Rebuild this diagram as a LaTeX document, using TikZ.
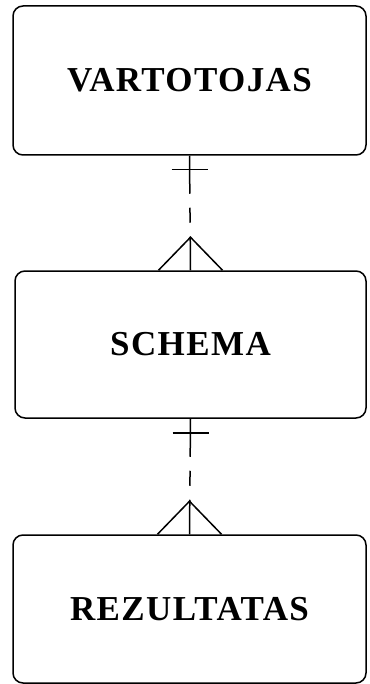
\documentclass[tikz,border=0pt]{standalone}
\usepackage{fontspec}
\setmainfont{Liberation Serif}
\newfontfamily\entityfont[LetterSpace=4]{Liberation Serif}
\usepackage{tikz}
\usetikzlibrary{arrows.meta}

\tikzset{
    entity/.style={draw, line width=1.5pt, rounded corners=10pt, minimum width=353pt,
        font=\entityfont\bfseries\fontsize{35}{40}\selectfont},
    link/.style={line width=1.5pt, dash pattern=on 38pt off 14pt on 15pt off 14pt on 40pt},
    crow/.style={line width=1.5pt}
}

\begin{document}
\begin{tikzpicture}[x=1pt, y=-1pt]
    \useasboundingbox (0,0) rectangle (369,684);

    \node[entity, minimum height=149pt] (vart) at (189.5, 80.5) {VARTOTOJAS};
    \node[entity, minimum height=147pt, minimum width=351pt] (sch) at (190.5, 344.5) {SCHEMA};
    \node[entity, minimum height=148pt] (rez) at (189.5, 609) {REZULTATAS};

    % one : many
    \draw[link] (vart.south) -- (sch.north);
    \draw[crow] ([xshift=-18pt, yshift=-14pt]vart.south) -- ([xshift=18pt, yshift=-14pt]vart.south);
    \draw[crow] ([xshift=-32pt]sch.north) -- ([yshift=33pt]sch.north) -- ([xshift=32pt]sch.north);

    \draw[link] (sch.south) -- (rez.north);
    \draw[crow] ([xshift=-18pt, yshift=-14pt]sch.south) -- ([xshift=18pt, yshift=-14pt]sch.south);
    \draw[crow] ([xshift=-32pt]rez.north) -- ([yshift=33pt]rez.north) -- ([xshift=32pt]rez.north);
\end{tikzpicture}
\end{document}
